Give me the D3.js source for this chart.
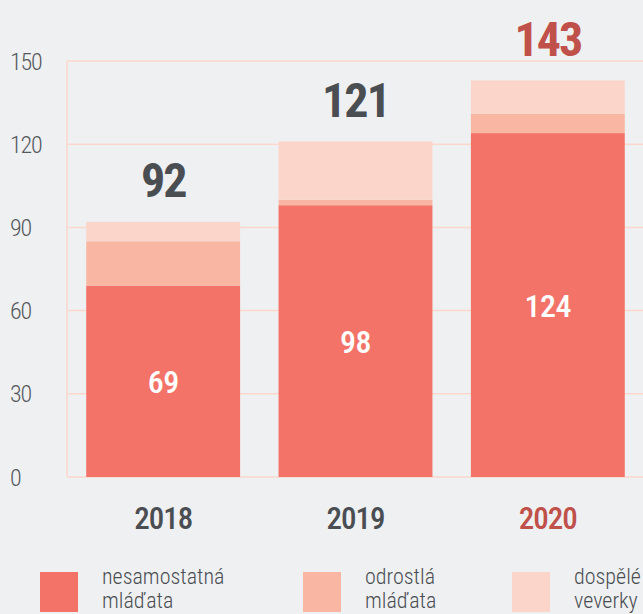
<!DOCTYPE html>
<html><head><meta charset="utf-8">
<script src="https://cdn.jsdelivr.net/npm/d3@7"></script>
<style>
html,body{margin:0;padding:0;background:#eff0f2;}
svg{display:block;}
text{font-family:"Roboto Condensed","Liberation Sans Narrow","DejaVu Sans Condensed",sans-serif;font-stretch:condensed;}
</style></head><body>
<svg id="c" width="643" height="614"></svg>
<script>
const years = ["2018","2019","2020"];
const nesamostatna = [69, 98, 124];
const odrostla = [16, 2, 7];
const dospele = [7, 21, 12];
const totals = [92, 121, 143];
const yTicks = [0, 30, 60, 90, 120, 150];
const seriesNames = [["nesamostatná","mláďata"],["odrostlá","mláďata"],["dospělé","veverky"]];
const colors = ["#f37368","#f9b6a2","#fcd5ca"];

const svg = d3.select("#c");
const x = d3.scaleBand().domain(years).range([67, 644]).paddingInner(0.2).paddingOuter(0.1);
const y = d3.scaleLinear().domain([0,150]).range([477, 61]);

// grid
svg.append("g").selectAll("line").data(yTicks).join("line")
  .attr("x1",67).attr("x2",643).attr("y1",d=>y(d)).attr("y2",d=>y(d))
  .attr("stroke","#fbd7cc").attr("stroke-width",1.5);
svg.append("line").attr("x1",67).attr("x2",67).attr("y1",y(150)).attr("y2",y(0))
  .attr("stroke","#fbd7cc").attr("stroke-width",1.5);

svg.append("g").selectAll("text").data(yTicks).join("text")
  .attr("x",10).attr("y",d=>y(d)).attr("dy","0.36em")
  .attr("fill","#55595d").attr("font-size",24).attr("font-weight",300)
  .attr("letter-spacing",-1.2).text(d=>d);

const data = years.map((yr,i)=>({year:yr, nesamostatna:nesamostatna[i], odrostla:odrostla[i], dospele:dospele[i]}));
const stack = d3.stack().keys(["nesamostatna","odrostla","dospele"])(data);
svg.append("g").selectAll("g").data(stack).join("g").attr("fill",(d,i)=>colors[i])
  .selectAll("rect").data(d=>d).join("rect")
  .attr("x",d=>x(d.data.year)).attr("width",x.bandwidth())
  .attr("y",d=>y(d[1])).attr("height",d=>y(d[0])-y(d[1]));

// inner labels
svg.append("g").selectAll("text").data(data).join("text")
  .attr("x",d=>x(d.year)+x.bandwidth()/2).attr("y",d=>y(d.nesamostatna/2)).attr("dy","0.36em")
  .attr("text-anchor","middle").attr("fill","#fff").attr("font-size",32).attr("font-weight",500)
  .attr("letter-spacing",-0.5).text(d=>d.nesamostatna);

// totals
svg.append("g").selectAll("text").data(years).join("text")
  .attr("x",d=>x(d)+x.bandwidth()/2).attr("y",(d,i)=>y(totals[i])-42).attr("dy","0.36em")
  .attr("text-anchor","middle").attr("fill",(d,i)=>i===2?"#c0504a":"#4a4e52")
  .attr("font-size",48).attr("font-weight",700).attr("letter-spacing",-2).text((d,i)=>totals[i]);

// year labels
svg.append("g").selectAll("text").data(years).join("text")
  .attr("x",d=>x(d)+x.bandwidth()/2).attr("y",518).attr("dy","0.36em")
  .attr("text-anchor","middle").attr("fill",(d,i)=>i===2?"#c0504a":"#4a4e52")
  .attr("font-size",31).attr("font-weight",500).attr("letter-spacing",-1).text(d=>d);

// legend
const legX = [40, 303, 512];
const leg = svg.append("g").selectAll("g").data(seriesNames).join("g")
  .attr("transform",(d,i)=>`translate(${legX[i]},572)`);
leg.append("rect").attr("width",38).attr("height",40).attr("fill",(d,i)=>colors[i]);
leg.append("text").attr("fill","#4a4e52").attr("font-size",22).attr("font-weight",300)
  .selectAll("tspan").data(d=>d).join("tspan")
  .attr("x",62).attr("y",(d,j)=>j*24+12).text(d=>d);
</script>
</body></html>
